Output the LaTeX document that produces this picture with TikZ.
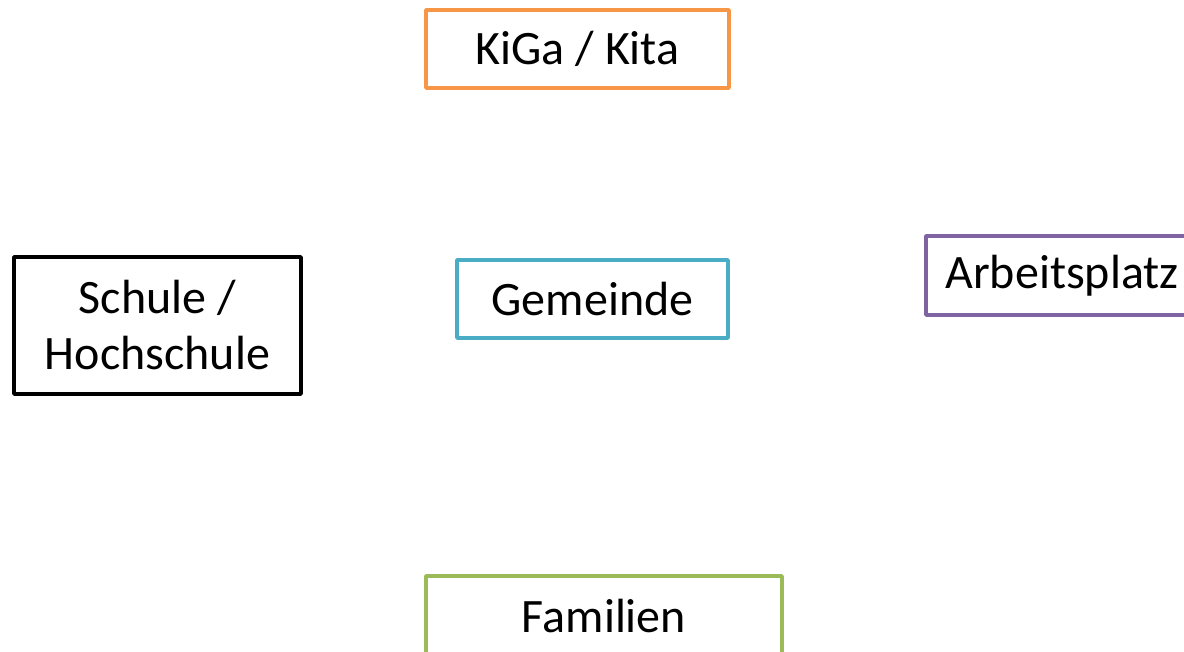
\documentclass[tikz,border=0pt]{standalone}
\usepackage{fontspec}
\setmainfont{Carlito}
\definecolor{cOrange}{HTML}{F79646}
\definecolor{cBlue}{HTML}{4BACC6}
\definecolor{cPurple}{HTML}{8064A2}
\definecolor{cGreen}{HTML}{9BBB59}
\begin{document}
\begin{tikzpicture}[x=1pt,y=1pt,
  box/.style={draw, line width=3.5pt, line join=round, inner sep=0pt, align=center,
    font=\fontsize{48}{56}\selectfont}]
\useasboundingbox (0,0) rectangle (1184,652);
\clip (0,0) rectangle (1184,652);
\node[box, draw=cOrange, minimum width=303pt, minimum height=78pt] (kiga) at (577.5,603) {KiGa / Kita};
\node[box, draw=black, minimum width=287pt, minimum height=137pt] (schule) at (157.5,326.5) {Schule /\\Hochschule};
\node[box, draw=cBlue, minimum width=271pt, minimum height=78pt] (gemeinde) at (592.5,353) {Gemeinde};
\node[box, draw=cPurple, minimum width=272pt, minimum height=79pt] (arbeit) at (1062,376.5) {Arbeitsplatz};
\node[box, draw=cGreen, minimum width=356pt, minimum height=80pt] (familien) at (604,36) {Familien};
\end{tikzpicture}
\end{document}
